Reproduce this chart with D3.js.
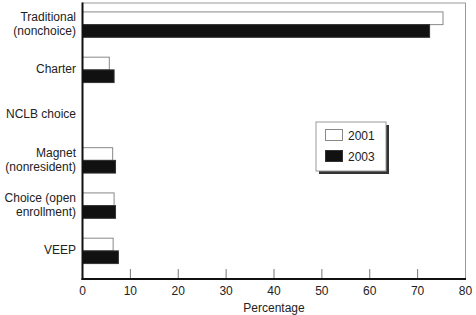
<!DOCTYPE html>
<html>
<head>
<meta charset="utf-8">
<script src="https://cdn.jsdelivr.net/npm/d3@7"></script>
<style>
  body { margin: 0; background: #fff; }
  text { font-family: "Liberation Sans", Arial, sans-serif; fill: #222; }
</style>
</head>
<body>
<svg id="chart" width="476" height="315"></svg>
<script>
// Data ---
var categories = [
    ["Traditional", "(nonchoice)"],
    ["Charter"],
    ["NCLB choice"],
    ["Magnet", "(nonresident)"],
    ["Choice (open", "enrollment)"],
    ["VEEP"]
];
var years = ["2001", "2003"];
var values2001 = [75.3, 5.6, 0, 6.3, 6.6, 6.4];
var values2003 = [72.5, 6.6, 0, 6.9, 6.9, 7.5];
var xTicks = [0, 10, 20, 30, 40, 50, 60, 70, 80];

var svg = d3.select("#chart");
var plotLeft = 82.5, plotRight = 465.5, plotTop = 3, plotBottom = 279;

var x = d3.scaleLinear().domain([0, 80]).range([plotLeft, plotRight]);
var y = d3.scalePoint()
    .domain(categories.map(function (d, i) { return i; }))
    .range([2, 273.5])
    .padding(0.5);
var barH = 12.7;

//  Frame  ---
svg.append("rect")
    .attr("x", plotLeft).attr("y", plotTop)
    .attr("width", plotRight - plotLeft).attr("height", plotBottom - plotTop)
    .attr("fill", "none").attr("stroke", "#999").attr("stroke-width", 1);

//  Inner ticks  ---
svg.selectAll(".tick")
    .data(xTicks.slice(1, -1))
    .enter().append("line")
    .attr("x1", function (d) { return x(d); })
    .attr("x2", function (d) { return x(d); })
    .attr("y1", plotBottom)
    .attr("y2", plotBottom - 10)
    .attr("stroke", "#777").attr("stroke-width", 1);

//  Bars  ---
var series = [
    { values: values2001, fill: "#fff", stroke: "#888", offset: -barH },
    { values: values2003, fill: "#111", stroke: "#333", offset: 0 }
];
series.forEach(function (s) {
    svg.append("g").selectAll("rect")
        .data(s.values)
        .enter().append("rect")
        .attr("x", x(0))
        .attr("y", function (d, i) { return y(i) + s.offset; })
        .attr("width", function (d) { return x(d) - x(0); })
        .attr("height", barH)
        .attr("fill", s.fill)
        .attr("stroke", function (d) { return d > 0 ? s.stroke : "none"; })
        .attr("stroke-width", 1);
});

//  Axes lines  ---
svg.append("line")
    .attr("x1", plotLeft).attr("x2", plotLeft).attr("y1", plotTop - 0.5).attr("y2", plotBottom + 1)
    .attr("stroke", "#111").attr("stroke-width", 2);
svg.append("line")
    .attr("x1", plotLeft - 1).attr("x2", plotRight + 0.5).attr("y1", plotBottom).attr("y2", plotBottom)
    .attr("stroke", "#111").attr("stroke-width", 2);

//  Tick labels  ---
svg.selectAll(".xlabel")
    .data(xTicks)
    .enter().append("text")
    .attr("x", function (d) { return x(d); })
    .attr("y", 295)
    .attr("text-anchor", "middle")
    .style("font-size", "12px")
    .text(function (d) { return d; });

svg.append("text")
    .attr("x", (plotLeft + plotRight) / 2)
    .attr("y", 312)
    .attr("text-anchor", "middle")
    .style("font-size", "12px")
    .text("Percentage");

//  Category labels  ---
var lineH = 14.3;
svg.selectAll(".ylabel")
    .data(categories)
    .enter().append("text")
    .attr("text-anchor", "end")
    .style("font-size", "12px")
    .each(function (lines, i) {
        var t = d3.select(this);
        var cy = y(i) - 1;
        lines.forEach(function (l, j) {
            t.append("tspan")
                .attr("x", 76)
                .attr("y", cy + (j - (lines.length - 1) / 2) * lineH + 4.3)
                .text(l);
        });
    });

//  Legend  ---
var lg = svg.append("g").attr("transform", "translate(316,122)");
lg.append("rect")
    .attr("x", 3).attr("y", 3).attr("width", 70).attr("height", 49)
    .attr("fill", "#333");
lg.append("rect")
    .attr("x", 0).attr("y", 0).attr("width", 70).attr("height", 49)
    .attr("fill", "#fff").attr("stroke", "#999");
years.forEach(function (yr, i) {
    lg.append("rect")
        .attr("x", 9.5).attr("y", 7.5 + i * 21)
        .attr("width", 17).attr("height", 11)
        .attr("fill", series[i].fill).attr("stroke", series[i].stroke);
    lg.append("text")
        .attr("x", 32).attr("y", 17.5 + i * 21)
        .style("font-size", "12px")
        .text(yr);
});
</script>
</body>
</html>
